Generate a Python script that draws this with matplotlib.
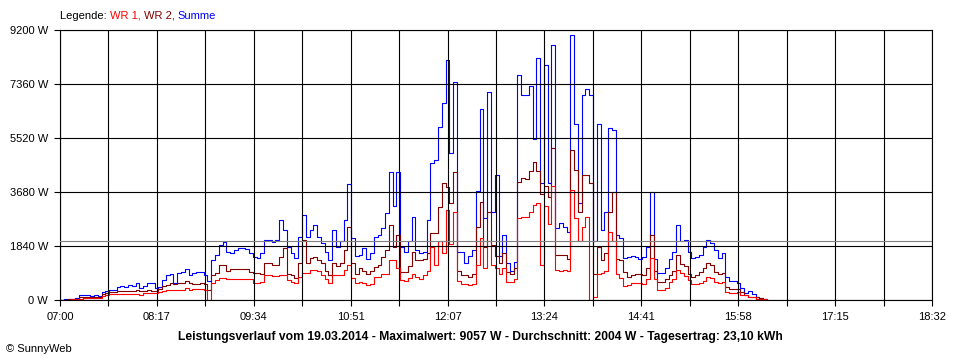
import numpy as np
import matplotlib
matplotlib.use("Agg")
from matplotlib import pyplot as plt

plt.rcParams['font.family'] = ['Liberation Sans', 'DejaVu Sans']
plt.rcParams['font.size'] = 8

# one reading every 3 minutes, counted from 07:00
minutes = np.arange(0, 562, 3)

summe = [
    0, 20, 34, 50, 70, 180, 170, 170, 150, 170,
    140, 270, 300, 330, 350, 450, 490, 450, 500, 480,
    590, 400, 490, 570, 580, 400, 440, 680, 850, 890,
    580, 910, 940, 1060, 850, 910, 940, 970, 850, 650,
    1360, 1530, 1870, 1990, 1640, 1590, 1700, 1770, 1770, 1740,
    1590, 1470, 1420, 1600, 2040, 2040, 1990, 2040, 2730, 2400,
    1800, 1600, 1420, 2160, 2900, 2160, 2390, 2560, 2160, 1930,
    1640, 1360, 2390, 1800, 2000, 2730, 3950,
    2110, 1500, 1550, 1770, 1400, 1590, 2160, 2200, 2440, 2950,
    4360, 3200, 4360, 1800, 1650, 2000, 2820, 1700, 1600, 1650,
    2730, 4660, 4770, 5900, 6700, 8180, 5000, 7440,
    1650, 1650, 1250, 1500, 1700, 3700, 6500, 2800, 7100, 3000,
    4260, 1500, 2200, 1250, 1000, 1300, 7670, 7000, 7000, 7300,
    5500, 8250, 4000, 8000, 4000, 8700, 2450, 2620,
    2500, 2320, 9030, 6000, 3300, 6980, 7200, 7000, 2000, 6000,
    2390, 3000, 5860, 5800, 2210, 2100, 1430, 1450, 1500, 1450,
    1400, 1450, 1800, 3690, 1400, 920, 920, 1100,
    1400, 1640, 2560, 2000, 2050, 1640, 1430, 1450, 1550, 1800,
    2040, 1950, 1700, 1430, 1600, 800, 640, 640, 570, 400,
    230, 310, 200, 110, 80, 40, 0,
]

wr2 = [
    0, 10, 20, 30, 50, 110, 110, 110, 110, 110,
    110, 200, 250, 280, 280, 300, 320, 320, 320, 320,
    330, 300, 320, 330, 320, 310, 360, 480, 510, 570,
    560, 570, 570, 650, 580, 560, 560, 580, 560, 350,
    850, 930, 1190, 1190, 1000, 1060, 1060, 1060, 1060, 1060,
    950, 920, 920, 900, 1250, 1250, 1200, 1200, 1470, 1770,
    900, 850, 750, 1250, 2040, 1250, 1420, 1470, 1350, 1250,
    1000, 850, 1250, 1150, 1250, 1700, 2500,
    1250, 900, 1090, 1000, 900, 1000, 1140, 1200, 1470, 1700,
    2560, 1800, 2200, 950, 950, 1150, 1650, 1360, 1360, 1400,
    1600, 2270, 2270, 3180, 4000, 3860, 3300, 4370,
    1000, 850, 850, 800, 900, 2500, 3340, 1800, 3000, 1870,
    1500, 1250, 1600, 950, 900, 1100, 4030, 4160, 4140, 4400,
    4700, 4400, 3600, 3900, 3500, 5190, 1530, 1530,
    1530, 1400, 5100, 4430, 3000, 4260, 4260, 4000, 900, 1800,
    1360, 1600, 3000, 3690, 1400, 1350, 950, 800, 850, 870,
    870, 850, 1090, 2210, 1000, 600, 620, 700,
    850, 1000, 1530, 1230, 1150, 900, 800, 850, 950, 1100,
    1250, 1200, 950, 880, 920, 450, 370, 370, 370, 270,
    170, 110, 110, 90, 60, 40, 0,
]

wr1 = [
    0, 5, 10, 20, 30, 50, 60, 70, 60, 60,
    70, 140, 180, 200, 200, 200, 200, 200, 210, 210,
    220, 180, 230, 230, 230, 230, 280, 320, 340, 340,
    330, 340, 340, 420, 350, 360, 360, 360, 340, 0,
    570, 680, 740, 740, 700, 700, 700, 700, 700, 700,
    700, 590, 590, 600, 850, 850, 820, 820, 850, 850,
    680, 620, 570, 800, 910, 910, 1020, 1020, 1000, 850,
    700, 570, 850, 850, 850, 1020, 1190,
    740, 570, 600, 580, 510, 560, 800, 800, 900, 900,
    1360, 1360, 1100, 680, 650, 750, 900, 800, 700, 850,
    1000, 1810, 1200, 2000, 1600, 3070, 1900, 3000,
    650, 550, 550, 500, 550, 1200, 2110, 1100, 2000, 1190,
    1100, 900, 1100, 600, 600, 700, 2800, 2840, 2840, 3000,
    3240, 3300, 1190, 3200, 2600, 3900, 1020, 1000,
    1020, 1000, 3750, 2800, 2000, 2500, 2840, 0, 100, 900,
    920, 1000, 2320, 2000, 900, 750, 480, 500, 570, 570,
    570, 560, 700, 1430, 700, 350, 340, 400,
    620, 700, 1020, 910, 820, 680, 550, 550, 580, 650,
    780, 760, 620, 580, 600, 270, 250, 250, 260, 170,
    170, 110, 100, 50, 40, 20, 0,
]

x_labels = ["07:00", "08:17", "09:34", "10:51", "12:07",
            "13:24", "14:41", "15:58", "17:15", "18:32"]
x_end = 692
y_ticks = [0, 1840, 3680, 5520, 7360, 9200]
y_labels = ["0 W", "1840 W", "3680 W", "5520 W", "7360 W", "9200 W"]
average = 2004
title = ("Leistungsverlauf vom 19.03.2014 - Maximalwert: 9057 W - "
         "Durchschnitt: 2004 W - Tagesertrag: 23,10 kWh")

lw = 0.8

fig = plt.figure(figsize=(9.6, 3.6), dpi=100)
ax = fig.add_axes([60 / 960, 60 / 360, 872 / 960, 270 / 360])

ax.plot(minutes, summe, color="#0000ff", lw=lw, drawstyle="steps-post")
ax.plot(minutes, wr2, color="#800000", lw=lw, drawstyle="steps-post")
ax.plot(minutes, wr1, color="#ff0000", lw=lw, drawstyle="steps-post")
ax.axhline(average, color="#808080", lw=lw, zorder=3)

ax.set_xlim(0, x_end)
ax.set_ylim(0, y_ticks[-1])
major = np.linspace(0, x_end, len(x_labels))
ax.set_xticks(major)
ax.set_xticklabels(x_labels)
ax.set_xticks(np.linspace(0, x_end, 2 * len(x_labels) - 1), minor=True)
ax.set_yticks(y_ticks)
ax.set_yticklabels(y_labels)

ax.grid(True, which="both", color="black", lw=lw)
ax.set_axisbelow(False)
ax.tick_params(which="both", direction="out", length=4.5, width=lw, color="black")
ax.tick_params(axis="x", pad=4)
ax.tick_params(axis="y", pad=4)
for s in ax.spines.values():
    s.set_linewidth(lw)

# legend line at the top, each name in its own colour
prev = fig.text(60 / 960, 1 - 16 / 360, "Legende: ", va="center", color="black")
for txt, col in [("WR 1, ", "#ff0000"), ("WR 2, ", "#800000"), ("Summe", "#0000ff")]:
    prev = ax.annotate(txt, xy=(1, 0), xycoords=prev, va="bottom", color=col,
                       annotation_clip=False)

fig.text(0.5, 1 - 337 / 360, title, ha="center", va="center", fontweight="bold", fontsize=8.7)
fig.text(6 / 960, 1 - 349 / 360, "\u00a9 SunnyWeb", ha="left", va="center")

fig.savefig("out.png", dpi=100)
